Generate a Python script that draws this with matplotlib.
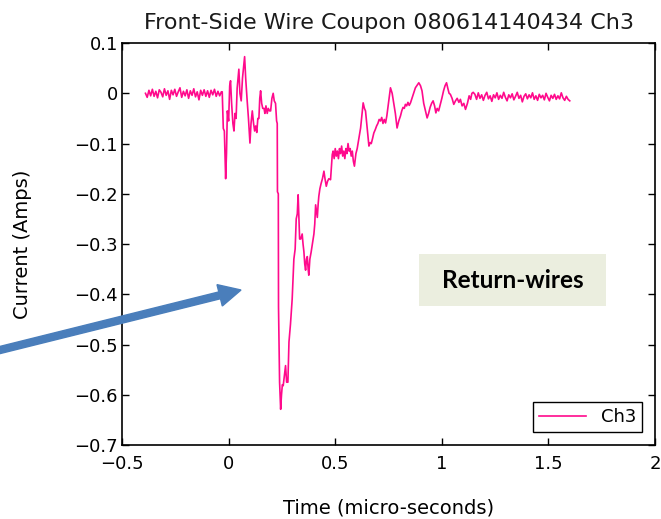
import numpy as np
import matplotlib
matplotlib.use("Agg")
import matplotlib.pyplot as plt
import matplotlib.patches as mpatches
from matplotlib.ticker import FixedLocator, FuncFormatter

# pre-trigger baseline (micro-seconds -0.39 .. -0.034)
pre_current = [0.0, -0.008, 0.006, -0.005, 0.008, -0.006, 0.004, -0.009, 0.007, 0.002,
               -0.007, 0.009, -0.004, 0.005, -0.012, 0.006, -0.003, 0.008, -0.006, 0.003,
               0.011, -0.008, 0.004, -0.005, 0.007, -0.01, 0.005, -0.004, 0.009, -0.007,
               0.003, -0.013, 0.006, -0.004, 0.007, -0.006, 0.005, -0.008, 0.006, -0.003,
               0.008, -0.006, 0.004, -0.005, 0.003]

# the pulse itself
event_time = [-0.03, -0.025, -0.02, -0.014, -0.01, -0.006, 0.0, 0.005, 0.009, 0.014,
              0.02, 0.025, 0.03, 0.035, 0.04, 0.048, 0.053, 0.059, 0.065, 0.075,
              0.08, 0.087, 0.093, 0.1, 0.105, 0.111, 0.117, 0.122, 0.127, 0.132,
              0.137, 0.142, 0.146, 0.15, 0.155, 0.16, 0.166, 0.17, 0.175, 0.181,
              0.186, 0.192, 0.197, 0.203, 0.209, 0.214, 0.22, 0.225, 0.228, 0.229,
              0.233, 0.234, 0.239, 0.244, 0.248, 0.252, 0.256, 0.262, 0.267, 0.272,
              0.278, 0.283, 0.29, 0.298, 0.306, 0.312, 0.317, 0.322, 0.326, 0.333,
              0.338, 0.345, 0.349, 0.353, 0.357, 0.361, 0.365, 0.369, 0.373, 0.376,
              0.381, 0.387, 0.393, 0.4, 0.404, 0.408, 0.412, 0.416, 0.42, 0.423,
              0.428, 0.434, 0.44, 0.447, 0.452, 0.458, 0.464, 0.47, 0.478, 0.486,
              0.49, 0.495, 0.5, 0.505, 0.51, 0.515, 0.52, 0.525, 0.53, 0.535,
              0.54, 0.545, 0.55, 0.555, 0.56, 0.565, 0.57, 0.575, 0.58, 0.585,
              0.59, 0.597, 0.603, 0.611, 0.619, 0.626, 0.631, 0.637, 0.642, 0.65,
              0.658, 0.664, 0.669, 0.675, 0.681, 0.688, 0.694, 0.7, 0.706, 0.712,
              0.718, 0.724, 0.73, 0.736, 0.742, 0.747, 0.753, 0.759, 0.767, 0.775,
              0.782, 0.79, 0.798, 0.806, 0.812, 0.818, 0.824, 0.829, 0.835, 0.841,
              0.847, 0.853, 0.86, 0.868, 0.876, 0.884, 0.892, 0.9, 0.907, 0.915,
              0.923, 0.931, 0.938, 0.945, 0.952, 0.959, 0.966, 0.972, 0.978, 0.985,
              0.993, 1.0, 1.008, 1.015, 1.022, 1.028, 1.034, 1.04, 1.048, 1.056,
              1.064, 1.072, 1.08, 1.087, 1.095, 1.103, 1.111, 1.12, 1.128, 1.135,
              1.141, 1.147]
event_current = [0.003, -0.07, -0.075, -0.17, -0.12, -0.035, -0.055, 0.015, 0.025, -0.02,
                 -0.06, -0.075, -0.04, -0.05, 0.01, 0.048, 0.0, -0.015, 0.03, 0.073,
                 0.03, -0.015, -0.05, -0.099, -0.06, -0.035, -0.06, -0.075, -0.065, -0.078,
                 -0.05, -0.05, -0.01, 0.005, -0.02, -0.03, -0.03, -0.04, -0.025, -0.04,
                 -0.03, -0.035, -0.035, -0.01, 0.0, -0.015, -0.02, -0.055, -0.06, -0.196,
                 -0.2, -0.425, -0.575, -0.629, -0.60, -0.58, -0.582, -0.56, -0.542, -0.575,
                 -0.575, -0.495, -0.46, -0.41, -0.33, -0.31, -0.25, -0.24, -0.202, -0.29,
                 -0.29, -0.28, -0.3, -0.315, -0.34, -0.352, -0.33, -0.325, -0.35, -0.362,
                 -0.33, -0.316, -0.3, -0.28, -0.26, -0.222, -0.235, -0.247, -0.22, -0.205,
                 -0.19, -0.179, -0.17, -0.155, -0.17, -0.185, -0.175, -0.17, -0.172, -0.122,
                 -0.115, -0.13, -0.11, -0.125, -0.115, -0.13, -0.11, -0.12, -0.105, -0.125,
                 -0.115, -0.13, -0.11, -0.12, -0.1, -0.115, -0.11, -0.125, -0.115, -0.135,
                 -0.145, -0.12, -0.11, -0.09, -0.069, -0.04, -0.019, -0.03, -0.035, -0.07,
                 -0.105, -0.098, -0.1, -0.09, -0.079, -0.072, -0.065, -0.06, -0.052, -0.055,
                 -0.048, -0.06, -0.052, -0.059, -0.045, -0.029, -0.01, 0.011, 0.0, -0.022,
                 -0.04, -0.069, -0.055, -0.045, -0.035, -0.028, -0.03, -0.022, -0.025, -0.018,
                 -0.024, -0.019, -0.01, 0.0, 0.011, 0.016, 0.021, 0.015, 0.005, -0.02,
                 -0.035, -0.049, -0.04, -0.028, -0.02, -0.015, -0.025, -0.039, -0.03, -0.035,
                 -0.022, -0.01, 0.005, 0.015, 0.021, 0.01, 0.0, -0.002, -0.01, -0.022,
                 -0.015, -0.01, -0.018, -0.012, -0.025, -0.02, -0.032, -0.02, -0.005, -0.012,
                 0.0, 0.002]

# post-pulse baseline (1.155 .. 1.60 micro-seconds)
tail_current = [-0.002, -0.012, 0.001, -0.01, -0.003, -0.014, -0.004, 0.002, -0.011, -0.005,
                -0.016, -0.003, -0.009, 0.001, -0.012, -0.004, -0.01, 0.002, -0.008, -0.015,
                -0.003, -0.009, -0.001, -0.013, -0.006, 0.002, -0.01, -0.004, -0.017, -0.006,
                -0.001, -0.011, -0.003, -0.009, 0.001, -0.012, -0.005, -0.014, -0.002, -0.009,
                -0.004, -0.013, 0.0, -0.008, -0.015, -0.004, -0.01, -0.002, -0.012, -0.005,
                -0.011, 0.001, -0.009, -0.014, -0.006, -0.012, -0.015]

x_ticks = [-0.5, 0, 0.5, 1, 1.5, 2]
y_ticks = [0.1, 0, -0.1, -0.2, -0.3, -0.4, -0.5, -0.6, -0.7]

t = np.concatenate([np.linspace(-0.39, -0.034, len(pre_current)),
                    event_time,
                    np.linspace(1.155, 1.60, len(tail_current))])
i = np.concatenate([pre_current, event_current, tail_current])

fig = plt.figure(figsize=(6.61, 5.19), dpi=100)
ax = fig.add_axes([0.1846, 0.1426, 0.8064, 0.7744])

ax.plot(t, i, color="#ff0a8c", lw=1.2, label="Ch3")
ax.set_xlim(-0.5, 2)
ax.set_ylim(-0.7, 0.1)

def fmt(v, pos):
    s = "%g" % v
    return s.replace("-", "\u2212")

ax.xaxis.set_major_locator(FixedLocator(x_ticks))
ax.yaxis.set_major_locator(FixedLocator(y_ticks))
ax.xaxis.set_major_formatter(FuncFormatter(fmt))
ax.yaxis.set_major_formatter(FuncFormatter(fmt))
ax.tick_params(direction="in", length=5, width=1, top=True, right=True,
               labelsize=13)
ax.tick_params(axis="x", pad=7)
ax.tick_params(axis="y", pad=3)
for sp in ax.spines.values():
    sp.set_linewidth(1.2)

ax.set_title("Front-Side Wire Coupon 080614140434 Ch3", fontsize=16, pad=10,
             color="#1a1a1a")
ax.set_xlabel("Time (micro-seconds)", fontsize=14)
ax.set_ylabel("Current (Amps)", fontsize=14)
ax.xaxis.set_label_coords(0.5, -0.132)
ax.yaxis.set_label_coords(-0.169, 0.5)

leg = ax.legend(loc="lower right", fontsize=13, fancybox=False, framealpha=1,
                edgecolor="black", handlelength=2.6, borderaxespad=0.7,
                borderpad=0.35)
leg.get_frame().set_linewidth(1.0)

# annotation box
box = mpatches.Rectangle((419 / 661, 1 - 306 / 519), 187 / 661, 52 / 519,
                         transform=fig.transFigure, fc="#ebeedf", ec="none")
fig.patches.append(box)
fig.text((419 + 606) / 2 / 661, 1 - 281 / 519, "Return-wires", fontsize=17.5,
         fontweight="bold", family="Lato", ha="center", va="center")

# blue arrow pointing at the pulse
arrow = mpatches.FancyArrow(-0.1, 1.665, 2.51, 0.625, width=0.07,
                            head_width=0.22, head_length=0.22,
                            length_includes_head=True, color="#4a7ebb",
                            transform=fig.dpi_scale_trans, clip_on=False)
fig.patches.append(arrow)

fig.savefig("out.png", dpi=100)
